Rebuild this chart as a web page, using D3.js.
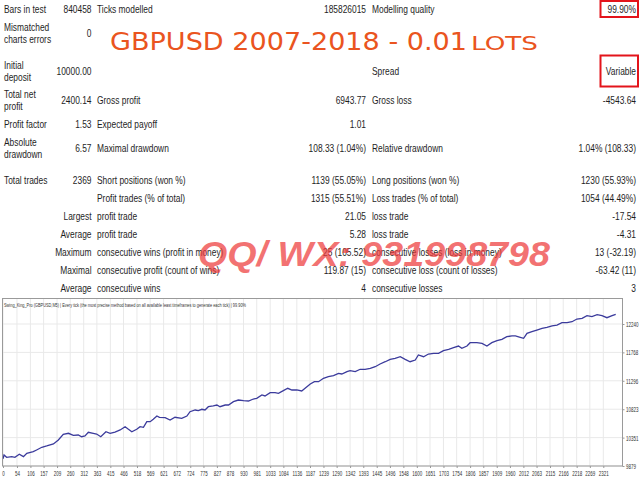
<!DOCTYPE html>
<html>
<head>
<meta charset="utf-8">
<script src="https://cdn.jsdelivr.net/npm/d3@7"></script>
<style>
  body { margin: 0; background: #fff; }
</style>
</head>
<body>
<div id="report"></div>
<script>
// balance curve: trade number and balance
const trades = [0, 4, 14, 34, 46, 63, 79, 92, 117, 130, 150, 169, 195, 214, 233, 253, 272, 291, 304, 317,
  330, 349, 362, 378, 398, 414, 433, 453, 472, 485, 498, 517, 530, 543, 556, 569, 581, 595, 605, 627,
  646, 665, 691, 711, 723, 743, 755, 769, 781, 794, 813, 827, 839, 859, 872, 891, 910, 930, 949, 968,
  981, 1001, 1013, 1033, 1052, 1065, 1084, 1101, 1117, 1136, 1155, 1168, 1188, 1204, 1220, 1239, 1258, 1278, 1297, 1310,
  1330, 1342, 1362, 1381, 1400, 1420, 1439, 1458, 1478, 1497, 1516, 1536, 1555, 1574, 1594, 1606, 1626, 1645, 1665, 1684,
  1703, 1723, 1742, 1761, 1774, 1794, 1806, 1832, 1852, 1871, 1890, 1910, 1929, 1948, 1968, 1981, 2000, 2013, 2026, 2045,
  2064, 2084, 2103, 2123, 2142, 2161, 2181, 2200, 2219, 2239, 2258, 2277, 2297, 2316, 2335, 2355, 2369];
const balance = [10000, 10062, 10024, 10034, 10024, 10074, 10034, 10090, 10117, 10145, 10190, 10212, 10245, 10311, 10406, 10423, 10389, 10394, 10366, 10378,
  10439, 10423, 10411, 10366, 10449, 10423, 10444, 10478, 10532, 10489, 10449, 10489, 10532, 10522, 10616, 10616, 10656, 10710, 10689, 10682,
  10644, 10689, 10672, 10710, 10782, 10810, 10799, 10822, 10810, 10865, 10877, 10893, 10865, 10893, 10893, 10948, 10976, 10965, 10960, 10993,
  11005, 11060, 11043, 11098, 11098, 11088, 11131, 11171, 11143, 11143, 11126, 11171, 11242, 11281, 11281, 11337, 11364, 11381, 11420, 11409,
  11447, 11464, 11447, 11487, 11487, 11504, 11530, 11575, 11613, 11653, 11670, 11696, 11653, 11613, 11641, 11725, 11696, 11741, 11753, 11753,
  11796, 11819, 11846, 11874, 11836, 11874, 11929, 11929, 11919, 11874, 11929, 11962, 11986, 12029, 12041, 12041, 12019, 12002, 12085, 12112,
  12140, 12169, 12185, 12207, 12223, 12262, 12262, 12278, 12323, 12335, 12378, 12362, 12395, 12378, 12345, 12378, 12400.14];

// axis tick labels
const xTicks = [0, 54, 106, 157, 209, 260, 312, 363, 415, 466, 518, 569, 621, 672, 724, 775, 827, 878, 930, 981,
  1033, 1084, 1136, 1187, 1239, 1290, 1342, 1393, 1445, 1496, 1548, 1600, 1651, 1703, 1754, 1806, 1857, 1909, 1960, 2012,
  2063, 2115, 2166, 2218, 2269, 2321];
const yTicks = [9879, 10351, 10823, 11296, 11768, 12240];

// report table: first column label (one or two lines) and its value
const col1Labels = [["Bars in test"], ["Mismatched", "charts errors"], ["Initial", "deposit"], ["Total net", "profit"],
  ["Profit factor"], ["Absolute", "drawdown"], ["Total trades"], [""], [""], [""], [""], [""], [""]];
const col1Values = ["840458", "0", "10000.00", "2400.14", "1.53", "6.57", "2369", "", "Largest", "Average", "Maximum", "Maximal", "Average"];
const col2Labels = ["Ticks modelled", "", "", "Gross profit", "Expected payoff", "Maximal drawdown", "Short positions (won %)",
  "Profit trades (% of total)", "profit trade", "profit trade", "consecutive wins (profit in money)",
  "consecutive profit (count of wins)", "consecutive wins"];
const col2Values = ["185826015", "", "", "6943.77", "1.01", "108.33 (1.04%)", "1139 (55.05%)", "1315 (55.51%)",
  "21.05", "5.28", "25 (105.52)", "119.87 (15)", "4"];
const col3Labels = ["Modelling quality", "", "Spread", "Gross loss", "", "Relative drawdown", "Long positions (won %)",
  "Loss trades (% of total)", "loss trade", "loss trade", "consecutive losses (loss in money)",
  "consecutive loss (count of losses)", "consecutive losses"];
const col3Values = ["99.90%", "", "Variable", "-4543.64", "", "1.04% (108.33)", "1230 (55.93%)", "1054 (44.49%)",
  "-17.54", "-4.31", "13 (-32.19)", "-63.42 (11)", "3"];
const highlighted = ["99.90%", "Variable"];

const title = "GBPUSD 2007-2018 - 0.01";
const titleTail = "LOTS";
const watermark = "QQ/ WX: 931998798";
const chartCaption = "Swing_King_Pro (GBPUSD,M5) | Every tick (the most precise method based on all available least timeframes to generate each tick) | 99.90%";

const w = 640, h = 480;
const svg = d3.select("#report").append("svg")
  .attr("width", w).attr("height", h)
  .style("display", "block");

const font = "'Liberation Sans', Arial, sans-serif";
const narrow = 0.8; // squeeze the text like the report's Tahoma
const rowY = [9, 33, 71, 100, 124, 148, 180, 198, 216, 234, 252, 270, 288];

//table text
let table = svg.append("g")
  .attr("font-family", font)
  .attr("font-size", 10.5)
  .attr("fill", "#1e1e1e");

function cell(x, y, t, anchor){
  table.append("text")
    .attr("transform", "translate(" + x + "," + y + ") scale(" + narrow + ",1)")
    .attr("dy", "0.35em")
    .attr("text-anchor", anchor || "start")
    .text(t);
}

rowY.forEach(function(y, i){
  let lines = col1Labels[i];
  lines.forEach(function(t, k){
    cell(4, y + (lines.length == 2 ? (k == 0 ? -6 : 6) : 0), t);
  });
  cell(91.5, y, col1Values[i], "end");
  cell(97, y, col2Labels[i]);
  cell(366, y, col2Values[i], "end");
  cell(372, y, col3Labels[i]);
  cell(636, y, col3Values[i], "end");

  //red boxes round modelling quality and spread
  if (highlighted.indexOf(col3Values[i]) > -1) {
    let bh = col3Values[i] == "Variable" ? 31 : 16;
    table.append("rect")
      .attr("x", 600.5).attr("y", y - bh / 2)
      .attr("width", 37.5).attr("height", bh)
      .attr("fill", "none").attr("stroke", "#e3141b").attr("stroke-width", 2);
  }
});

//orange title
svg.append("text").attr("x", 110).attr("y", 50)
  .attr("font-family", "'DejaVu Sans', sans-serif").attr("font-size", 25)
  .attr("fill", "#ea5420")
  .attr("textLength", 357).attr("lengthAdjust", "spacingAndGlyphs")
  .text(title);
svg.append("text").attr("x", 471).attr("y", 50)
  .attr("font-family", "'DejaVu Sans', sans-serif").attr("font-size", 20)
  .attr("fill", "#ea5420")
  .attr("textLength", 67).attr("lengthAdjust", "spacingAndGlyphs")
  .text(titleTail);

// balance chart
const chartLeft = 2.5, chartRight = 622.5, chartTop = 298.5, chartBottom = 466;

let xScale = d3.scaleLinear()
  .domain([0, 2321])
  .range([3, 603.3]);

let yScale = d3.scaleLinear()
  .domain([9879, 12240])
  .range([466, 324]);

let chart = svg.append("g");

chart.append("rect")
  .attr("x", chartLeft).attr("y", chartTop)
  .attr("width", chartRight - chartLeft).attr("height", chartBottom - chartTop)
  .attr("fill", "#fff");

//grid
chart.append("g").selectAll("line.v")
  .data(xTicks).enter().append("line")
  .attr("x1", d => xScale(d)).attr("x2", d => xScale(d))
  .attr("y1", chartTop).attr("y2", chartBottom)
  .attr("stroke", "#e9e9e9").attr("stroke-width", 1);
chart.append("g").selectAll("line.h")
  .data(yTicks).enter().append("line")
  .attr("x1", chartLeft).attr("x2", chartRight)
  .attr("y1", d => yScale(d)).attr("y2", d => yScale(d))
  .attr("stroke", "#e9e9e9").attr("stroke-width", 1);

chart.append("text").attr("x", 4).attr("y", 307)
  .attr("font-family", font).attr("font-size", 6)
  .attr("fill", "#333")
  .attr("textLength", 242).attr("lengthAdjust", "spacingAndGlyphs")
  .text(chartCaption);

let points = trades.map((t, i) => ({ t: t, b: balance[i] }));
let line = d3.line()
  .x(d => xScale(d.t))
  .y(d => yScale(d.b));

chart.append("path")
  .attr("d", line(points))
  .attr("fill", "none")
  .attr("stroke", "#3b3b9c")
  .attr("stroke-width", 1.3);

chart.append("rect")
  .attr("x", chartLeft).attr("y", chartTop)
  .attr("width", chartRight - chartLeft).attr("height", chartBottom - chartTop)
  .attr("fill", "none").attr("stroke", "#9a9a9a").attr("stroke-width", 1);

//axes, labels squeezed to fit the tiny report font
let xAxis = d3.axisBottom(xScale).tickValues(xTicks).tickSize(2).tickFormat(d3.format("d"));
chart.append("g")
  .attr("transform", "translate(0," + chartBottom + ")")
  .call(xAxis)
  .call(g => g.select(".domain").remove())
  .call(g => g.selectAll("line").attr("stroke", "#999"))
  .call(g => g.selectAll("text")
    .attr("font-family", font).attr("font-size", 7.5).attr("fill", "#333")
    .attr("transform", "scale(0.6,1)").attr("y", 5).attr("dy", "0.71em"));

let yAxis = d3.axisRight(yScale).tickValues(yTicks).tickSize(2).tickFormat(d3.format("d"));
chart.append("g")
  .attr("transform", "translate(" + chartRight + ",0)")
  .call(yAxis)
  .call(g => g.select(".domain").remove())
  .call(g => g.selectAll("line").attr("stroke", "#999"))
  .call(g => g.selectAll("text")
    .attr("font-family", font).attr("font-size", 7.5).attr("fill", "#333")
    .attr("x", 6).attr("transform", "scale(0.6,1)"));

//watermark over the table
svg.append("text").attr("x", 198).attr("y", 266)
  .attr("font-family", "'Liberation Sans', Arial, sans-serif")
  .attr("font-size", 35).attr("font-weight", "bold").attr("font-style", "italic")
  .attr("fill", "#ee3b3b").attr("fill-opacity", 0.72)
  .attr("textLength", 352).attr("lengthAdjust", "spacingAndGlyphs")
  .text(watermark);
</script>
</body>
</html>
